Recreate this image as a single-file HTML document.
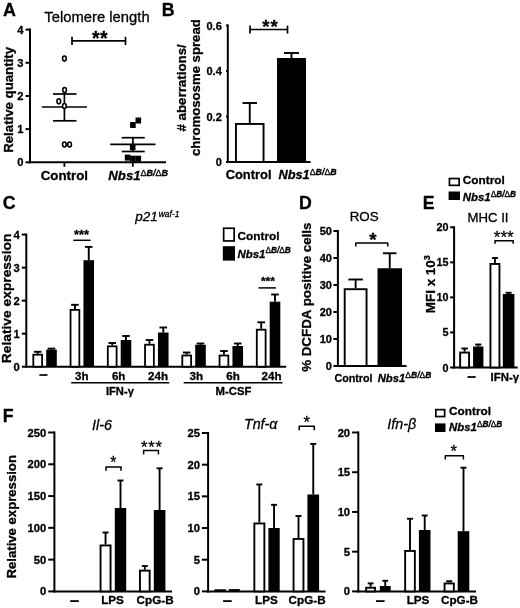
<!DOCTYPE html>
<html lang="en">
<head>
<meta charset="utf-8">
<title>Figure</title>
<style>
html,body{margin:0;padding:0;background:#fff;}
body{width:520px;height:608px;overflow:hidden;}
svg{display:block;filter:blur(0.4px);}
svg text{font-family:"Liberation Sans", Arial, Helvetica, sans-serif;fill:#000;stroke:#000;stroke-width:0.3px;stroke-linejoin:round;}
</style>
</head>
<body>
<svg width="520" height="608" viewBox="0 0 520 608">
<rect x="0" y="0" width="520" height="608" fill="#fff"/>
<text x="3.00" y="15.80" font-size="17.9" font-weight="bold" font-style="normal" text-anchor="start">A</text>
<text x="97.00" y="21.50" font-size="14.8" font-weight="normal" font-style="normal" text-anchor="middle" stroke-width="0.1">Telomere length</text>
<line x1="30.00" y1="28.60" x2="30.00" y2="163.30" stroke="#000" stroke-width="2.0" stroke-linecap="butt"/>
<line x1="25.50" y1="162.30" x2="30.00" y2="162.30" stroke="#000" stroke-width="2.0" stroke-linecap="butt"/>
<text x="23.50" y="166.30" font-size="11.2" font-weight="bold" font-style="normal" text-anchor="end">0</text>
<line x1="25.50" y1="129.12" x2="30.00" y2="129.12" stroke="#000" stroke-width="2.0" stroke-linecap="butt"/>
<text x="23.50" y="133.12" font-size="11.2" font-weight="bold" font-style="normal" text-anchor="end">1</text>
<line x1="25.50" y1="95.95" x2="30.00" y2="95.95" stroke="#000" stroke-width="2.0" stroke-linecap="butt"/>
<text x="23.50" y="99.95" font-size="11.2" font-weight="bold" font-style="normal" text-anchor="end">2</text>
<line x1="25.50" y1="62.78" x2="30.00" y2="62.78" stroke="#000" stroke-width="2.0" stroke-linecap="butt"/>
<text x="23.50" y="66.78" font-size="11.2" font-weight="bold" font-style="normal" text-anchor="end">3</text>
<line x1="25.50" y1="29.60" x2="30.00" y2="29.60" stroke="#000" stroke-width="2.0" stroke-linecap="butt"/>
<text x="23.50" y="33.60" font-size="11.2" font-weight="bold" font-style="normal" text-anchor="end">4</text>
<line x1="29.00" y1="162.30" x2="166.00" y2="162.30" stroke="#000" stroke-width="2.0" stroke-linecap="butt"/>
<line x1="64.40" y1="162.30" x2="64.40" y2="166.80" stroke="#000" stroke-width="1.8" stroke-linecap="butt"/>
<line x1="132.80" y1="162.30" x2="132.80" y2="166.80" stroke="#000" stroke-width="1.8" stroke-linecap="butt"/>
<text x="64.40" y="180.40" font-size="13.3" font-weight="bold" font-style="normal" text-anchor="middle">Control</text>
<text x="108.30" y="180.40" font-size="13.2" font-weight="bold" font-style="italic" text-anchor="start">Nbs1<tspan font-size="9.00" dy="-4.75"><tspan font-style="normal" font-weight="normal">&#916;</tspan>B/<tspan font-style="normal" font-weight="normal">&#916;</tspan>B</tspan></text>
<text x="13.50" y="99.90" font-size="13.2" font-weight="bold" text-anchor="middle" textLength="105.8" lengthAdjust="spacingAndGlyphs" transform="rotate(-90 13.50 99.90)">Relative quantity</text>
<line x1="72.00" y1="40.90" x2="125.50" y2="40.90" stroke="#000" stroke-width="1.7" stroke-linecap="butt"/>
<line x1="72.00" y1="36.80" x2="72.00" y2="45.10" stroke="#000" stroke-width="1.7" stroke-linecap="butt"/>
<line x1="125.50" y1="36.80" x2="125.50" y2="45.10" stroke="#000" stroke-width="1.7" stroke-linecap="butt"/>
<text x="99.90" y="44.75" font-size="19.5" font-weight="bold" font-style="normal" text-anchor="middle" letter-spacing="0.4">**</text>
<line x1="41.80" y1="107.00" x2="86.90" y2="107.00" stroke="#000" stroke-width="1.7" stroke-linecap="butt"/>
<line x1="64.40" y1="94.00" x2="64.40" y2="120.80" stroke="#000" stroke-width="1.7" stroke-linecap="butt"/>
<line x1="53.00" y1="94.00" x2="76.50" y2="94.00" stroke="#000" stroke-width="1.7" stroke-linecap="butt"/>
<line x1="53.00" y1="120.80" x2="76.50" y2="120.80" stroke="#000" stroke-width="1.7" stroke-linecap="butt"/>
<ellipse cx="64.4" cy="58.6" rx="1.85" ry="2.55" fill="#fff" stroke="#000" stroke-width="1.55"/>
<ellipse cx="64.6" cy="90.1" rx="1.85" ry="2.55" fill="#fff" stroke="#000" stroke-width="1.55"/>
<ellipse cx="58.8" cy="101.3" rx="1.85" ry="2.55" fill="#fff" stroke="#000" stroke-width="1.55"/>
<ellipse cx="64.4" cy="106.1" rx="1.85" ry="2.55" fill="#fff" stroke="#000" stroke-width="1.55"/>
<ellipse cx="64.4" cy="144.5" rx="1.85" ry="2.55" fill="#fff" stroke="#000" stroke-width="1.55"/>
<ellipse cx="69.6" cy="144.5" rx="1.85" ry="2.55" fill="#fff" stroke="#000" stroke-width="1.55"/>
<line x1="110.20" y1="144.40" x2="155.50" y2="144.40" stroke="#000" stroke-width="1.7" stroke-linecap="butt"/>
<line x1="132.90" y1="137.70" x2="132.90" y2="151.50" stroke="#000" stroke-width="1.7" stroke-linecap="butt"/>
<line x1="121.70" y1="137.70" x2="144.80" y2="137.70" stroke="#000" stroke-width="1.7" stroke-linecap="butt"/>
<line x1="121.70" y1="151.50" x2="144.80" y2="151.50" stroke="#000" stroke-width="1.7" stroke-linecap="butt"/>
<rect x="135.50" y="117.50" width="5.60" height="6.00" fill="#000"/>
<rect x="130.10" y="122.00" width="5.60" height="6.00" fill="#000"/>
<rect x="129.90" y="144.20" width="5.60" height="6.00" fill="#000"/>
<rect x="124.80" y="154.60" width="5.60" height="6.00" fill="#000"/>
<rect x="130.10" y="155.70" width="5.60" height="6.00" fill="#000"/>
<rect x="135.50" y="155.70" width="5.60" height="6.00" fill="#000"/>
<text x="161.80" y="15.80" font-size="17.7" font-weight="bold" font-style="normal" text-anchor="start">B</text>
<line x1="227.80" y1="24.50" x2="227.80" y2="163.00" stroke="#000" stroke-width="2.0" stroke-linecap="butt"/>
<line x1="226.00" y1="162.00" x2="227.80" y2="162.00" stroke="#000" stroke-width="2.0" stroke-linecap="butt"/>
<text x="221.80" y="166.00" font-size="11" font-weight="bold" font-style="normal" text-anchor="end">0</text>
<line x1="226.00" y1="116.50" x2="227.80" y2="116.50" stroke="#000" stroke-width="2.0" stroke-linecap="butt"/>
<text x="221.80" y="120.50" font-size="11" font-weight="bold" font-style="normal" text-anchor="end">0.2</text>
<line x1="226.00" y1="71.00" x2="227.80" y2="71.00" stroke="#000" stroke-width="2.0" stroke-linecap="butt"/>
<text x="221.80" y="75.00" font-size="11" font-weight="bold" font-style="normal" text-anchor="end">0.4</text>
<line x1="226.00" y1="25.50" x2="227.80" y2="25.50" stroke="#000" stroke-width="2.0" stroke-linecap="butt"/>
<text x="221.80" y="29.50" font-size="11" font-weight="bold" font-style="normal" text-anchor="end">0.6</text>
<line x1="226.80" y1="162.00" x2="310.50" y2="162.00" stroke="#000" stroke-width="2.0" stroke-linecap="butt"/>
<line x1="249.75" y1="103.00" x2="249.75" y2="123.00" stroke="#000" stroke-width="1.9" stroke-linecap="butt"/>
<line x1="242.50" y1="103.00" x2="257.00" y2="103.00" stroke="#000" stroke-width="1.9" stroke-linecap="butt"/>
<rect x="235.95" y="123.95" width="27.60" height="38.05" fill="#fff" stroke="#000" stroke-width="1.9"/>
<line x1="291.50" y1="53.00" x2="291.50" y2="58.00" stroke="#000" stroke-width="1.9" stroke-linecap="butt"/>
<line x1="284.00" y1="53.00" x2="299.00" y2="53.00" stroke="#000" stroke-width="1.9" stroke-linecap="butt"/>
<rect x="277.00" y="58.00" width="29.00" height="104.00" fill="#000"/>
<line x1="250.00" y1="29.50" x2="287.50" y2="29.50" stroke="#000" stroke-width="1.7" stroke-linecap="butt"/>
<line x1="250.00" y1="25.60" x2="250.00" y2="33.50" stroke="#000" stroke-width="1.7" stroke-linecap="butt"/>
<line x1="287.50" y1="25.60" x2="287.50" y2="33.50" stroke="#000" stroke-width="1.7" stroke-linecap="butt"/>
<text x="270.50" y="32.96" font-size="18.5" font-weight="bold" font-style="normal" text-anchor="middle" letter-spacing="1.0">**</text>
<text x="248.60" y="179.40" font-size="12.9" font-weight="bold" font-style="normal" text-anchor="middle">Control</text>
<text x="278.40" y="179.40" font-size="12.8" font-weight="bold" font-style="italic" text-anchor="start">Nbs1<tspan font-size="8.80" dy="-4.61"><tspan font-style="normal" font-weight="normal">&#916;</tspan>B/<tspan font-style="normal" font-weight="normal">&#916;</tspan>B</tspan></text>
<text x="186.20" y="87.90" font-size="13.3" font-weight="bold" text-anchor="middle" textLength="87.4" lengthAdjust="spacingAndGlyphs" transform="rotate(-90 186.20 87.90)"># aberrations/</text>
<text x="199.80" y="87.60" font-size="13.3" font-weight="bold" text-anchor="middle" textLength="136.8" lengthAdjust="spacingAndGlyphs" transform="rotate(-90 199.80 87.60)">chromososme spread</text>
<text x="2.80" y="209.40" font-size="17.8" font-weight="bold" font-style="normal" text-anchor="start">C</text>
<text x="135.2" y="220.6" font-size="13.5" font-style="italic" font-weight="normal" stroke-width="0.1">p21<tspan font-size="8.5" x="158.7" dy="-3.2">waf-1</tspan></text>
<line x1="26.30" y1="233.60" x2="26.30" y2="367.70" stroke="#000" stroke-width="2.0" stroke-linecap="butt"/>
<line x1="21.80" y1="366.70" x2="26.30" y2="366.70" stroke="#000" stroke-width="2.0" stroke-linecap="butt"/>
<text x="19.80" y="370.70" font-size="11.2" font-weight="bold" font-style="normal" text-anchor="end">0</text>
<line x1="21.80" y1="333.68" x2="26.30" y2="333.68" stroke="#000" stroke-width="2.0" stroke-linecap="butt"/>
<text x="19.80" y="337.68" font-size="11.2" font-weight="bold" font-style="normal" text-anchor="end">1</text>
<line x1="21.80" y1="300.65" x2="26.30" y2="300.65" stroke="#000" stroke-width="2.0" stroke-linecap="butt"/>
<text x="19.80" y="304.65" font-size="11.2" font-weight="bold" font-style="normal" text-anchor="end">2</text>
<line x1="21.80" y1="267.62" x2="26.30" y2="267.62" stroke="#000" stroke-width="2.0" stroke-linecap="butt"/>
<text x="19.80" y="271.62" font-size="11.2" font-weight="bold" font-style="normal" text-anchor="end">3</text>
<line x1="21.80" y1="234.60" x2="26.30" y2="234.60" stroke="#000" stroke-width="2.0" stroke-linecap="butt"/>
<text x="19.80" y="238.60" font-size="11.2" font-weight="bold" font-style="normal" text-anchor="end">4</text>
<line x1="25.30" y1="366.70" x2="286.20" y2="366.70" stroke="#000" stroke-width="2.0" stroke-linecap="butt"/>
<text x="10.80" y="298.40" font-size="12.4" font-weight="bold" text-anchor="middle" textLength="129.6" lengthAdjust="spacingAndGlyphs" transform="rotate(-90 10.80 298.40)">Relative expression</text>
<line x1="37.70" y1="351.80" x2="37.70" y2="353.80" stroke="#000" stroke-width="1.9" stroke-linecap="butt"/>
<line x1="33.90" y1="351.80" x2="41.50" y2="351.80" stroke="#000" stroke-width="1.9" stroke-linecap="butt"/>
<rect x="33.30" y="354.70" width="8.80" height="12.00" fill="#fff" stroke="#000" stroke-width="1.8"/>
<line x1="51.50" y1="348.60" x2="51.50" y2="349.60" stroke="#000" stroke-width="1.9" stroke-linecap="butt"/>
<line x1="47.70" y1="348.60" x2="55.30" y2="348.60" stroke="#000" stroke-width="1.9" stroke-linecap="butt"/>
<rect x="46.20" y="349.60" width="10.60" height="17.10" fill="#000"/>
<line x1="74.95" y1="304.80" x2="74.95" y2="309.00" stroke="#000" stroke-width="1.9" stroke-linecap="butt"/>
<line x1="71.15" y1="304.80" x2="78.75" y2="304.80" stroke="#000" stroke-width="1.9" stroke-linecap="butt"/>
<rect x="70.55" y="309.90" width="8.80" height="56.80" fill="#fff" stroke="#000" stroke-width="1.8"/>
<line x1="88.75" y1="246.90" x2="88.75" y2="260.20" stroke="#000" stroke-width="1.9" stroke-linecap="butt"/>
<line x1="84.95" y1="246.90" x2="92.55" y2="246.90" stroke="#000" stroke-width="1.9" stroke-linecap="butt"/>
<rect x="83.45" y="260.20" width="10.60" height="106.50" fill="#000"/>
<line x1="112.20" y1="343.00" x2="112.20" y2="345.40" stroke="#000" stroke-width="1.9" stroke-linecap="butt"/>
<line x1="108.40" y1="343.00" x2="116.00" y2="343.00" stroke="#000" stroke-width="1.9" stroke-linecap="butt"/>
<rect x="107.80" y="346.30" width="8.80" height="20.40" fill="#fff" stroke="#000" stroke-width="1.8"/>
<line x1="126.00" y1="336.00" x2="126.00" y2="340.00" stroke="#000" stroke-width="1.9" stroke-linecap="butt"/>
<line x1="122.20" y1="336.00" x2="129.80" y2="336.00" stroke="#000" stroke-width="1.9" stroke-linecap="butt"/>
<rect x="120.70" y="340.00" width="10.60" height="26.70" fill="#000"/>
<line x1="149.45" y1="340.00" x2="149.45" y2="343.80" stroke="#000" stroke-width="1.9" stroke-linecap="butt"/>
<line x1="145.65" y1="340.00" x2="153.25" y2="340.00" stroke="#000" stroke-width="1.9" stroke-linecap="butt"/>
<rect x="145.05" y="344.70" width="8.80" height="22.00" fill="#fff" stroke="#000" stroke-width="1.8"/>
<line x1="163.25" y1="327.50" x2="163.25" y2="332.50" stroke="#000" stroke-width="1.9" stroke-linecap="butt"/>
<line x1="159.45" y1="327.50" x2="167.05" y2="327.50" stroke="#000" stroke-width="1.9" stroke-linecap="butt"/>
<rect x="157.95" y="332.50" width="10.60" height="34.20" fill="#000"/>
<line x1="186.70" y1="352.50" x2="186.70" y2="354.60" stroke="#000" stroke-width="1.9" stroke-linecap="butt"/>
<line x1="182.90" y1="352.50" x2="190.50" y2="352.50" stroke="#000" stroke-width="1.9" stroke-linecap="butt"/>
<rect x="182.30" y="355.50" width="8.80" height="11.20" fill="#fff" stroke="#000" stroke-width="1.8"/>
<line x1="200.50" y1="343.50" x2="200.50" y2="344.80" stroke="#000" stroke-width="1.9" stroke-linecap="butt"/>
<line x1="196.70" y1="343.50" x2="204.30" y2="343.50" stroke="#000" stroke-width="1.9" stroke-linecap="butt"/>
<rect x="195.20" y="344.80" width="10.60" height="21.90" fill="#000"/>
<line x1="223.95" y1="351.00" x2="223.95" y2="354.60" stroke="#000" stroke-width="1.9" stroke-linecap="butt"/>
<line x1="220.15" y1="351.00" x2="227.75" y2="351.00" stroke="#000" stroke-width="1.9" stroke-linecap="butt"/>
<rect x="219.55" y="355.50" width="8.80" height="11.20" fill="#fff" stroke="#000" stroke-width="1.8"/>
<line x1="237.75" y1="343.50" x2="237.75" y2="346.00" stroke="#000" stroke-width="1.9" stroke-linecap="butt"/>
<line x1="233.95" y1="343.50" x2="241.55" y2="343.50" stroke="#000" stroke-width="1.9" stroke-linecap="butt"/>
<rect x="232.45" y="346.00" width="10.60" height="20.70" fill="#000"/>
<line x1="261.20" y1="322.30" x2="261.20" y2="328.80" stroke="#000" stroke-width="1.9" stroke-linecap="butt"/>
<line x1="257.40" y1="322.30" x2="265.00" y2="322.30" stroke="#000" stroke-width="1.9" stroke-linecap="butt"/>
<rect x="256.80" y="329.70" width="8.80" height="37.00" fill="#fff" stroke="#000" stroke-width="1.8"/>
<line x1="275.00" y1="294.50" x2="275.00" y2="301.70" stroke="#000" stroke-width="1.9" stroke-linecap="butt"/>
<line x1="271.20" y1="294.50" x2="278.80" y2="294.50" stroke="#000" stroke-width="1.9" stroke-linecap="butt"/>
<rect x="269.70" y="301.70" width="10.60" height="65.00" fill="#000"/>
<line x1="39.40" y1="375.00" x2="47.50" y2="375.00" stroke="#000" stroke-width="1.7" stroke-linecap="butt"/>
<text x="81.80" y="379.50" font-size="11.6" font-weight="bold" font-style="normal" text-anchor="middle">3h</text>
<text x="118.70" y="379.50" font-size="11.6" font-weight="bold" font-style="normal" text-anchor="middle">6h</text>
<text x="158.10" y="379.50" font-size="11.6" font-weight="bold" font-style="normal" text-anchor="middle">24h</text>
<text x="196.30" y="379.50" font-size="11.6" font-weight="bold" font-style="normal" text-anchor="middle">3h</text>
<text x="233.10" y="379.50" font-size="11.6" font-weight="bold" font-style="normal" text-anchor="middle">6h</text>
<text x="271.60" y="379.50" font-size="11.6" font-weight="bold" font-style="normal" text-anchor="middle">24h</text>
<line x1="71.20" y1="382.70" x2="169.20" y2="382.70" stroke="#000" stroke-width="1.5" stroke-linecap="butt"/>
<line x1="183.70" y1="382.70" x2="282.50" y2="382.70" stroke="#000" stroke-width="1.5" stroke-linecap="butt"/>
<text x="119.90" y="395.40" font-size="11.2" font-weight="bold" font-style="normal" text-anchor="middle">IFN-&#947;</text>
<text x="233.50" y="395.20" font-size="11.3" font-weight="bold" font-style="normal" text-anchor="middle">M-CSF</text>
<line x1="73.30" y1="240.30" x2="90.60" y2="240.30" stroke="#000" stroke-width="1.5" stroke-linecap="butt"/>
<text x="81.60" y="239.13" font-size="12.8" font-weight="bold" font-style="normal" text-anchor="middle" letter-spacing="0">***</text>
<line x1="258.50" y1="287.90" x2="276.00" y2="287.90" stroke="#000" stroke-width="1.5" stroke-linecap="butt"/>
<text x="267.90" y="285.14" font-size="11.8" font-weight="bold" font-style="normal" text-anchor="middle" letter-spacing="0">***</text>
<rect x="223.65" y="228.25" width="10.50" height="12.70" fill="#fff" stroke="#000" stroke-width="1.7"/>
<rect x="222.80" y="246.20" width="12.20" height="14.40" fill="#000"/>
<text x="237.60" y="239.50" font-size="11.8" font-weight="bold" font-style="normal" text-anchor="start">Control</text>
<text x="237.60" y="257.50" font-size="11.4" font-weight="bold" font-style="italic" text-anchor="start">Nbs1<tspan font-size="8.30" dy="-4.10"><tspan font-style="normal" font-weight="normal">&#916;</tspan>B/<tspan font-style="normal" font-weight="normal">&#916;</tspan>B</tspan></text>
<text x="298.90" y="209.20" font-size="17.7" font-weight="bold" font-style="normal" text-anchor="start">D</text>
<text x="364.20" y="221.30" font-size="13.4" font-weight="normal" font-style="normal" text-anchor="middle" stroke-width="0.1">ROS</text>
<line x1="337.90" y1="230.00" x2="337.90" y2="367.00" stroke="#000" stroke-width="2.0" stroke-linecap="butt"/>
<line x1="333.40" y1="366.00" x2="337.90" y2="366.00" stroke="#000" stroke-width="2.0" stroke-linecap="butt"/>
<text x="331.90" y="370.00" font-size="11" font-weight="bold" font-style="normal" text-anchor="end">0</text>
<line x1="333.40" y1="339.00" x2="337.90" y2="339.00" stroke="#000" stroke-width="2.0" stroke-linecap="butt"/>
<text x="331.90" y="343.00" font-size="11" font-weight="bold" font-style="normal" text-anchor="end">10</text>
<line x1="333.40" y1="312.00" x2="337.90" y2="312.00" stroke="#000" stroke-width="2.0" stroke-linecap="butt"/>
<text x="331.90" y="316.00" font-size="11" font-weight="bold" font-style="normal" text-anchor="end">20</text>
<line x1="333.40" y1="285.00" x2="337.90" y2="285.00" stroke="#000" stroke-width="2.0" stroke-linecap="butt"/>
<text x="331.90" y="289.00" font-size="11" font-weight="bold" font-style="normal" text-anchor="end">30</text>
<line x1="333.40" y1="258.00" x2="337.90" y2="258.00" stroke="#000" stroke-width="2.0" stroke-linecap="butt"/>
<text x="331.90" y="262.00" font-size="11" font-weight="bold" font-style="normal" text-anchor="end">40</text>
<line x1="333.40" y1="231.00" x2="337.90" y2="231.00" stroke="#000" stroke-width="2.0" stroke-linecap="butt"/>
<text x="331.90" y="235.00" font-size="11" font-weight="bold" font-style="normal" text-anchor="end">50</text>
<line x1="336.90" y1="366.00" x2="406.50" y2="366.00" stroke="#000" stroke-width="2.0" stroke-linecap="butt"/>
<text x="311.40" y="297.20" font-size="13.3" font-weight="bold" text-anchor="middle" textLength="149.3" lengthAdjust="spacingAndGlyphs" transform="rotate(-90 311.40 297.20)">% DCFDA positive cells</text>
<line x1="355.62" y1="279.50" x2="355.62" y2="288.25" stroke="#000" stroke-width="1.9" stroke-linecap="butt"/>
<line x1="348.38" y1="279.50" x2="362.88" y2="279.50" stroke="#000" stroke-width="1.9" stroke-linecap="butt"/>
<rect x="344.70" y="289.20" width="21.85" height="76.80" fill="#fff" stroke="#000" stroke-width="1.9"/>
<line x1="389.75" y1="253.25" x2="389.75" y2="268.25" stroke="#000" stroke-width="1.9" stroke-linecap="butt"/>
<line x1="383.00" y1="253.25" x2="396.50" y2="253.25" stroke="#000" stroke-width="1.9" stroke-linecap="butt"/>
<rect x="377.50" y="268.25" width="24.50" height="97.75" fill="#000"/>
<polyline points="355.80,246.50 355.80,242.90 387.80,242.90 387.80,246.50" fill="none" stroke="#000" stroke-width="1.5" stroke-linejoin="round"/>
<text x="372.80" y="245.77" font-size="18.8" font-weight="bold" font-style="normal" text-anchor="middle" letter-spacing="0">*</text>
<text x="353.50" y="381.60" font-size="11.5" font-weight="bold" font-style="normal" text-anchor="middle" textLength="38.2" lengthAdjust="spacingAndGlyphs">Control</text>
<text x="377.70" y="381.60" font-size="11.3" font-weight="bold" font-style="italic" text-anchor="start">Nbs1<tspan font-size="8.50" dy="-4.07"><tspan font-style="normal" font-weight="normal">&#916;</tspan>B/<tspan font-style="normal" font-weight="normal">&#916;</tspan>B</tspan></text>
<text x="422.70" y="209.20" font-size="17.7" font-weight="bold" font-style="normal" text-anchor="start">E</text>
<text x="488.00" y="221.70" font-size="13.2" font-weight="normal" font-style="normal" text-anchor="middle" stroke-width="0.1">MHC II</text>
<line x1="454.10" y1="226.30" x2="454.10" y2="368.50" stroke="#000" stroke-width="2.0" stroke-linecap="butt"/>
<line x1="450.10" y1="367.50" x2="454.10" y2="367.50" stroke="#000" stroke-width="2.0" stroke-linecap="butt"/>
<text x="448.60" y="371.50" font-size="10.8" font-weight="bold" font-style="normal" text-anchor="end">0</text>
<line x1="450.10" y1="332.45" x2="454.10" y2="332.45" stroke="#000" stroke-width="2.0" stroke-linecap="butt"/>
<text x="448.60" y="336.45" font-size="10.8" font-weight="bold" font-style="normal" text-anchor="end">5</text>
<line x1="450.10" y1="297.40" x2="454.10" y2="297.40" stroke="#000" stroke-width="2.0" stroke-linecap="butt"/>
<text x="448.60" y="301.40" font-size="10.8" font-weight="bold" font-style="normal" text-anchor="end">10</text>
<line x1="450.10" y1="262.35" x2="454.10" y2="262.35" stroke="#000" stroke-width="2.0" stroke-linecap="butt"/>
<text x="448.60" y="266.35" font-size="10.8" font-weight="bold" font-style="normal" text-anchor="end">15</text>
<line x1="450.10" y1="227.30" x2="454.10" y2="227.30" stroke="#000" stroke-width="2.0" stroke-linecap="butt"/>
<text x="448.60" y="231.30" font-size="10.8" font-weight="bold" font-style="normal" text-anchor="end">20</text>
<line x1="453.10" y1="367.50" x2="517.70" y2="367.50" stroke="#000" stroke-width="2.0" stroke-linecap="butt"/>
<text x="435.00" y="284.20" font-size="13.2" font-weight="bold" text-anchor="middle" textLength="58.0" lengthAdjust="spacingAndGlyphs" transform="rotate(-90 435.00 284.20)">MFI x 10<tspan font-size="8.8" dy="-4.8">3</tspan></text>
<line x1="464.60" y1="348.50" x2="464.60" y2="351.60" stroke="#000" stroke-width="1.9" stroke-linecap="butt"/>
<line x1="461.35" y1="348.50" x2="467.85" y2="348.50" stroke="#000" stroke-width="1.9" stroke-linecap="butt"/>
<rect x="460.15" y="352.55" width="8.90" height="14.95" fill="#fff" stroke="#000" stroke-width="1.9"/>
<line x1="478.25" y1="344.50" x2="478.25" y2="346.50" stroke="#000" stroke-width="1.9" stroke-linecap="butt"/>
<line x1="475.15" y1="344.50" x2="481.35" y2="344.50" stroke="#000" stroke-width="1.9" stroke-linecap="butt"/>
<rect x="473.10" y="346.50" width="10.30" height="21.00" fill="#000"/>
<line x1="494.95" y1="258.00" x2="494.95" y2="263.00" stroke="#000" stroke-width="1.9" stroke-linecap="butt"/>
<line x1="491.95" y1="258.00" x2="497.95" y2="258.00" stroke="#000" stroke-width="1.9" stroke-linecap="butt"/>
<rect x="490.45" y="263.95" width="9.00" height="103.55" fill="#fff" stroke="#000" stroke-width="1.9"/>
<line x1="508.60" y1="292.80" x2="508.60" y2="294.00" stroke="#000" stroke-width="1.9" stroke-linecap="butt"/>
<line x1="505.60" y1="292.80" x2="511.60" y2="292.80" stroke="#000" stroke-width="1.9" stroke-linecap="butt"/>
<rect x="502.80" y="294.00" width="11.60" height="73.50" fill="#000"/>
<polyline points="495.00,243.80 495.00,240.80 513.20,240.80 513.20,243.80" fill="none" stroke="#000" stroke-width="1.5" stroke-linejoin="round"/>
<text x="503.75" y="243.43" font-size="17" font-weight="normal" font-style="normal" text-anchor="middle" letter-spacing="0" stroke-width="0.1">***</text>
<line x1="467.50" y1="377.00" x2="475.60" y2="377.00" stroke="#000" stroke-width="1.8" stroke-linecap="butt"/>
<text x="504.80" y="381.20" font-size="11.4" font-weight="bold" font-style="normal" text-anchor="middle">IFN-&#947;</text>
<rect x="449.45" y="178.55" width="9.70" height="6.80" fill="#fff" stroke="#000" stroke-width="1.7"/>
<rect x="448.60" y="191.50" width="11.40" height="8.50" fill="#000"/>
<text x="462.80" y="184.30" font-size="11.8" font-weight="bold" font-style="normal" text-anchor="start">Control</text>
<text x="462.80" y="200.90" font-size="11.4" font-weight="bold" font-style="italic" text-anchor="start">Nbs1<tspan font-size="8.30" dy="-4.10"><tspan font-style="normal" font-weight="normal">&#916;</tspan>B/<tspan font-style="normal" font-weight="normal">&#916;</tspan>B</tspan></text>
<text x="2.70" y="422.20" font-size="17.7" font-weight="bold" font-style="normal" text-anchor="start">F</text>
<text x="102.00" y="430.00" font-size="14.3" font-weight="normal" font-style="italic" text-anchor="middle" stroke-width="0.1">Il-6</text>
<line x1="54.40" y1="431.50" x2="54.40" y2="592.40" stroke="#000" stroke-width="2.0" stroke-linecap="butt"/>
<line x1="48.20" y1="591.40" x2="54.40" y2="591.40" stroke="#000" stroke-width="2.0" stroke-linecap="butt"/>
<text x="46.20" y="595.40" font-size="11.2" font-weight="bold" font-style="normal" text-anchor="end">0</text>
<line x1="48.20" y1="559.62" x2="54.40" y2="559.62" stroke="#000" stroke-width="2.0" stroke-linecap="butt"/>
<text x="46.20" y="563.62" font-size="11.2" font-weight="bold" font-style="normal" text-anchor="end">50</text>
<line x1="48.20" y1="527.84" x2="54.40" y2="527.84" stroke="#000" stroke-width="2.0" stroke-linecap="butt"/>
<text x="46.20" y="531.84" font-size="11.2" font-weight="bold" font-style="normal" text-anchor="end">100</text>
<line x1="48.20" y1="496.06" x2="54.40" y2="496.06" stroke="#000" stroke-width="2.0" stroke-linecap="butt"/>
<text x="46.20" y="500.06" font-size="11.2" font-weight="bold" font-style="normal" text-anchor="end">150</text>
<line x1="48.20" y1="464.28" x2="54.40" y2="464.28" stroke="#000" stroke-width="2.0" stroke-linecap="butt"/>
<text x="46.20" y="468.28" font-size="11.2" font-weight="bold" font-style="normal" text-anchor="end">200</text>
<line x1="48.20" y1="432.50" x2="54.40" y2="432.50" stroke="#000" stroke-width="2.0" stroke-linecap="butt"/>
<text x="46.20" y="436.50" font-size="11.2" font-weight="bold" font-style="normal" text-anchor="end">250</text>
<line x1="53.40" y1="591.40" x2="172.00" y2="591.40" stroke="#000" stroke-width="2.0" stroke-linecap="butt"/>
<text x="16.40" y="516.80" font-size="12.2" font-weight="bold" text-anchor="middle" textLength="123.4" lengthAdjust="spacingAndGlyphs" transform="rotate(-90 16.40 516.80)">Relative expression</text>
<line x1="105.55" y1="532.50" x2="105.55" y2="544.50" stroke="#000" stroke-width="1.9" stroke-linecap="butt"/>
<line x1="102.55" y1="532.50" x2="108.55" y2="532.50" stroke="#000" stroke-width="1.9" stroke-linecap="butt"/>
<rect x="100.55" y="545.45" width="10.00" height="45.95" fill="#fff" stroke="#000" stroke-width="1.9"/>
<line x1="120.50" y1="480.50" x2="120.50" y2="508.00" stroke="#000" stroke-width="1.9" stroke-linecap="butt"/>
<line x1="117.50" y1="480.50" x2="123.50" y2="480.50" stroke="#000" stroke-width="1.9" stroke-linecap="butt"/>
<rect x="114.80" y="508.00" width="11.40" height="83.40" fill="#000"/>
<line x1="144.80" y1="566.00" x2="144.80" y2="569.70" stroke="#000" stroke-width="1.9" stroke-linecap="butt"/>
<line x1="141.80" y1="566.00" x2="147.80" y2="566.00" stroke="#000" stroke-width="1.9" stroke-linecap="butt"/>
<rect x="139.95" y="570.65" width="9.70" height="20.75" fill="#fff" stroke="#000" stroke-width="1.9"/>
<line x1="159.60" y1="468.30" x2="159.60" y2="510.00" stroke="#000" stroke-width="1.9" stroke-linecap="butt"/>
<line x1="156.60" y1="468.30" x2="162.60" y2="468.30" stroke="#000" stroke-width="1.9" stroke-linecap="butt"/>
<rect x="153.80" y="510.00" width="11.60" height="81.40" fill="#000"/>
<polyline points="106.00,470.70 106.00,467.00 121.00,467.00 121.00,470.70" fill="none" stroke="#000" stroke-width="1.5" stroke-linejoin="round"/>
<text x="113.30" y="468.10" font-size="15.8" font-weight="normal" font-style="normal" text-anchor="middle" letter-spacing="0" stroke-width="0.1">*</text>
<polyline points="143.60,454.50 143.60,450.60 158.40,450.60 158.40,454.50" fill="none" stroke="#000" stroke-width="1.5" stroke-linejoin="round"/>
<text x="151.90" y="452.88" font-size="16.5" font-weight="normal" font-style="normal" text-anchor="middle" letter-spacing="0.8" stroke-width="0.1">***</text>
<line x1="70.20" y1="601.10" x2="78.80" y2="601.10" stroke="#000" stroke-width="1.8" stroke-linecap="butt"/>
<text x="112.50" y="604.40" font-size="11.7" font-weight="bold" font-style="normal" text-anchor="middle">LPS</text>
<text x="155.10" y="604.40" font-size="11.7" font-weight="bold" font-style="normal" text-anchor="middle">CpG-B</text>
<text x="260.70" y="428.50" font-size="14.3" font-weight="normal" font-style="italic" text-anchor="middle" stroke-width="0.1">Tnf-&#945;</text>
<line x1="208.10" y1="432.00" x2="208.10" y2="592.40" stroke="#000" stroke-width="2.0" stroke-linecap="butt"/>
<line x1="201.90" y1="591.40" x2="208.10" y2="591.40" stroke="#000" stroke-width="2.0" stroke-linecap="butt"/>
<text x="199.90" y="595.40" font-size="11.2" font-weight="bold" font-style="normal" text-anchor="end">0</text>
<line x1="201.90" y1="559.72" x2="208.10" y2="559.72" stroke="#000" stroke-width="2.0" stroke-linecap="butt"/>
<text x="199.90" y="563.72" font-size="11.2" font-weight="bold" font-style="normal" text-anchor="end">5</text>
<line x1="201.90" y1="528.04" x2="208.10" y2="528.04" stroke="#000" stroke-width="2.0" stroke-linecap="butt"/>
<text x="199.90" y="532.04" font-size="11.2" font-weight="bold" font-style="normal" text-anchor="end">10</text>
<line x1="201.90" y1="496.36" x2="208.10" y2="496.36" stroke="#000" stroke-width="2.0" stroke-linecap="butt"/>
<text x="199.90" y="500.36" font-size="11.2" font-weight="bold" font-style="normal" text-anchor="end">15</text>
<line x1="201.90" y1="464.68" x2="208.10" y2="464.68" stroke="#000" stroke-width="2.0" stroke-linecap="butt"/>
<text x="199.90" y="468.68" font-size="11.2" font-weight="bold" font-style="normal" text-anchor="end">20</text>
<line x1="201.90" y1="433.00" x2="208.10" y2="433.00" stroke="#000" stroke-width="2.0" stroke-linecap="butt"/>
<text x="199.90" y="437.00" font-size="11.2" font-weight="bold" font-style="normal" text-anchor="end">25</text>
<line x1="207.10" y1="591.40" x2="325.50" y2="591.40" stroke="#000" stroke-width="2.0" stroke-linecap="butt"/>
<rect x="214.40" y="589.30" width="11.60" height="2.10" fill="#000"/>
<rect x="228.80" y="589.10" width="11.00" height="2.30" fill="#000"/>
<line x1="259.35" y1="484.50" x2="259.35" y2="522.50" stroke="#000" stroke-width="1.9" stroke-linecap="butt"/>
<line x1="256.35" y1="484.50" x2="262.35" y2="484.50" stroke="#000" stroke-width="1.9" stroke-linecap="butt"/>
<rect x="254.35" y="523.45" width="10.00" height="67.95" fill="#fff" stroke="#000" stroke-width="1.9"/>
<line x1="274.05" y1="504.80" x2="274.05" y2="528.00" stroke="#000" stroke-width="1.9" stroke-linecap="butt"/>
<line x1="271.05" y1="504.80" x2="277.05" y2="504.80" stroke="#000" stroke-width="1.9" stroke-linecap="butt"/>
<rect x="268.40" y="528.00" width="11.30" height="63.40" fill="#000"/>
<line x1="298.50" y1="516.00" x2="298.50" y2="538.00" stroke="#000" stroke-width="1.9" stroke-linecap="butt"/>
<line x1="295.50" y1="516.00" x2="301.50" y2="516.00" stroke="#000" stroke-width="1.9" stroke-linecap="butt"/>
<rect x="293.55" y="538.95" width="9.90" height="52.45" fill="#fff" stroke="#000" stroke-width="1.9"/>
<line x1="313.25" y1="443.90" x2="313.25" y2="494.50" stroke="#000" stroke-width="1.9" stroke-linecap="butt"/>
<line x1="310.25" y1="443.90" x2="316.25" y2="443.90" stroke="#000" stroke-width="1.9" stroke-linecap="butt"/>
<rect x="307.40" y="494.50" width="11.70" height="96.90" fill="#000"/>
<polyline points="299.20,430.30 299.20,426.30 314.30,426.30 314.30,430.30" fill="none" stroke="#000" stroke-width="1.5" stroke-linejoin="round"/>
<text x="306.70" y="428.19" font-size="16.5" font-weight="normal" font-style="normal" text-anchor="middle" letter-spacing="0" stroke-width="0.1">*</text>
<line x1="223.10" y1="601.10" x2="231.70" y2="601.10" stroke="#000" stroke-width="1.8" stroke-linecap="butt"/>
<text x="266.40" y="604.40" font-size="11.7" font-weight="bold" font-style="normal" text-anchor="middle">LPS</text>
<text x="307.10" y="604.40" font-size="11.7" font-weight="bold" font-style="normal" text-anchor="middle">CpG-B</text>
<text x="401.70" y="428.50" font-size="14.3" font-weight="normal" font-style="italic" text-anchor="middle" stroke-width="0.1">Ifn-&#946;</text>
<line x1="358.30" y1="431.50" x2="358.30" y2="592.40" stroke="#000" stroke-width="2.0" stroke-linecap="butt"/>
<line x1="352.10" y1="591.40" x2="358.30" y2="591.40" stroke="#000" stroke-width="2.0" stroke-linecap="butt"/>
<text x="350.10" y="595.40" font-size="11.2" font-weight="bold" font-style="normal" text-anchor="end">0</text>
<line x1="352.10" y1="551.67" x2="358.30" y2="551.67" stroke="#000" stroke-width="2.0" stroke-linecap="butt"/>
<text x="350.10" y="555.67" font-size="11.2" font-weight="bold" font-style="normal" text-anchor="end">5</text>
<line x1="352.10" y1="511.95" x2="358.30" y2="511.95" stroke="#000" stroke-width="2.0" stroke-linecap="butt"/>
<text x="350.10" y="515.95" font-size="11.2" font-weight="bold" font-style="normal" text-anchor="end">10</text>
<line x1="352.10" y1="472.23" x2="358.30" y2="472.23" stroke="#000" stroke-width="2.0" stroke-linecap="butt"/>
<text x="350.10" y="476.23" font-size="11.2" font-weight="bold" font-style="normal" text-anchor="end">15</text>
<line x1="352.10" y1="432.50" x2="358.30" y2="432.50" stroke="#000" stroke-width="2.0" stroke-linecap="butt"/>
<text x="350.10" y="436.50" font-size="11.2" font-weight="bold" font-style="normal" text-anchor="end">20</text>
<line x1="357.30" y1="591.40" x2="476.00" y2="591.40" stroke="#000" stroke-width="2.0" stroke-linecap="butt"/>
<line x1="370.60" y1="583.40" x2="370.60" y2="586.80" stroke="#000" stroke-width="1.9" stroke-linecap="butt"/>
<line x1="367.70" y1="583.40" x2="373.50" y2="583.40" stroke="#000" stroke-width="1.9" stroke-linecap="butt"/>
<rect x="366.15" y="587.75" width="8.90" height="3.65" fill="#fff" stroke="#000" stroke-width="1.9"/>
<line x1="385.25" y1="580.80" x2="385.25" y2="586.00" stroke="#000" stroke-width="1.9" stroke-linecap="butt"/>
<line x1="382.35" y1="580.80" x2="388.15" y2="580.80" stroke="#000" stroke-width="1.9" stroke-linecap="butt"/>
<rect x="379.80" y="586.00" width="10.90" height="5.40" fill="#000"/>
<line x1="410.00" y1="518.75" x2="410.00" y2="550.00" stroke="#000" stroke-width="1.9" stroke-linecap="butt"/>
<line x1="407.00" y1="518.75" x2="413.00" y2="518.75" stroke="#000" stroke-width="1.9" stroke-linecap="butt"/>
<rect x="405.15" y="550.95" width="9.70" height="40.45" fill="#fff" stroke="#000" stroke-width="1.9"/>
<line x1="424.70" y1="515.50" x2="424.70" y2="530.00" stroke="#000" stroke-width="1.9" stroke-linecap="butt"/>
<line x1="421.70" y1="515.50" x2="427.70" y2="515.50" stroke="#000" stroke-width="1.9" stroke-linecap="butt"/>
<rect x="418.90" y="530.00" width="11.60" height="61.40" fill="#000"/>
<line x1="449.20" y1="581.20" x2="449.20" y2="582.50" stroke="#000" stroke-width="1.9" stroke-linecap="butt"/>
<line x1="446.20" y1="581.20" x2="452.20" y2="581.20" stroke="#000" stroke-width="1.9" stroke-linecap="butt"/>
<rect x="444.55" y="583.45" width="9.30" height="7.95" fill="#fff" stroke="#000" stroke-width="1.9"/>
<line x1="463.50" y1="467.70" x2="463.50" y2="531.20" stroke="#000" stroke-width="1.9" stroke-linecap="butt"/>
<line x1="460.50" y1="467.70" x2="466.50" y2="467.70" stroke="#000" stroke-width="1.9" stroke-linecap="butt"/>
<rect x="457.70" y="531.20" width="11.60" height="60.20" fill="#000"/>
<polyline points="445.30,459.50 445.30,455.80 463.40,455.80 463.40,459.50" fill="none" stroke="#000" stroke-width="1.5" stroke-linejoin="round"/>
<text x="453.60" y="456.58" font-size="16.5" font-weight="normal" font-style="normal" text-anchor="middle" letter-spacing="0" stroke-width="0.1">*</text>
<line x1="376.00" y1="601.10" x2="384.60" y2="601.10" stroke="#000" stroke-width="1.8" stroke-linecap="butt"/>
<text x="418.00" y="604.40" font-size="11.7" font-weight="bold" font-style="normal" text-anchor="middle">LPS</text>
<text x="459.50" y="604.40" font-size="11.7" font-weight="bold" font-style="normal" text-anchor="middle">CpG-B</text>
<rect x="435.85" y="409.65" width="8.80" height="6.90" fill="#fff" stroke="#000" stroke-width="1.7"/>
<rect x="435.00" y="423.40" width="10.50" height="8.60" fill="#000"/>
<text x="449.10" y="415.30" font-size="11.8" font-weight="bold" font-style="normal" text-anchor="start">Control</text>
<text x="449.10" y="431.20" font-size="11.4" font-weight="bold" font-style="italic" text-anchor="start">Nbs1<tspan font-size="8.30" dy="-4.10"><tspan font-style="normal" font-weight="normal">&#916;</tspan>B/<tspan font-style="normal" font-weight="normal">&#916;</tspan>B</tspan></text>
</svg>
</body>
</html>
